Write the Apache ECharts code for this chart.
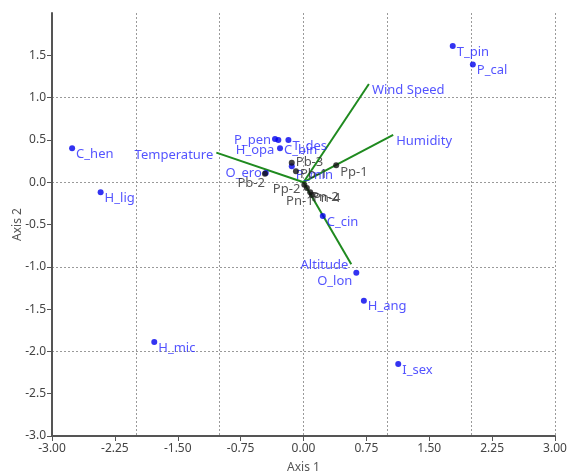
<!DOCTYPE html>
<html>
<head>
<meta charset="utf-8">
<script src="https://cdn.jsdelivr.net/npm/echarts@6/dist/echarts.min.js"></script>
<style>
  html, body { margin: 0; padding: 0; background: #fff; }
  #graph { width: 568px; height: 472px; }
</style>
</head>
<body>
<div id="graph"></div>
<script>
// species scores (blue)
var speciesNames = ['T_pin', 'P_cal', 'C_hen', 'H_lig', 'H_mic', 'I_sex', 'H_ang', 'O_lon', 'C_cin',
  'O_ero', 'P_pen', 'H_opa', 'T_des', 'C_bin', 'P_min'];
var speciesX = [1.78, 2.02, -2.76, -2.42, -1.78, 1.13, 0.72, 0.63, 0.23, -0.45, -0.34, -0.30, -0.18, -0.28, -0.14];
var speciesY = [1.61, 1.39, 0.40, -0.12, -1.89, -2.15, -1.40, -1.07, -0.40, 0.11, 0.51, 0.50, 0.50, 0.40, 0.19];

// sample scores (black)
var sampleNames = ['Pb-1', 'Pb-2', 'Pb-3', 'Pp-1', 'Pp-2', 'Pn-1', 'Pn-2', 'Pn-4'];
var sampleX = [-0.09, -0.46, -0.14, 0.39, 0.01, 0.04, 0.08, 0.10];
var sampleY = [0.13, 0.10, 0.23, 0.20, -0.03, -0.07, -0.12, -0.15];

// environmental vectors (green)
var envNames = ['Temperature', 'Wind Speed', 'Humidity', 'Altitude'];
var envX = [-1.04, 0.78, 1.07, 0.57];
var envY = [0.35, 1.16, 0.56, -0.97];

// label placement (style only)
var labelPlace = {
  'O_lon': ['left', [0, 9]],
  'O_ero': ['left', [0, 0]],
  'P_pen': ['left', [0, 1]],
  'H_opa': ['left', [0, 10]],
  'C_bin': ['right', [0, 2]],
  'P_min': ['right', [0, 9]],
  'Pb-1': ['right', [0, 3]],
  'Pb-2': ['left', [4, 10]],
  'Pb-3': ['right', [0, 0]],
  'Pp-1': ['right', [0, 7]],
  'Pp-2': ['left', [0, 5]],
  'Pn-1': ['bottom', [-7, 3]],
  'Pn-2': ['right', [-3, 5]],
  'Pn-4': ['right', [-3, 3]],
  'Temperature': ['left', [0, 3]],
  'Wind Speed': ['right', [0, 6]],
  'Humidity': ['right', [0, 6]],
  'Altitude': ['left', [0, 1]]
};

function place(name) {
  var p = labelPlace[name] || ['right', [0, 6]];
  return { position: p[0], offset: p[1] };
}

var fontFam = "'Segoe UI', 'Noto Sans', sans-serif";

var chartDom = document.getElementById('graph');
var myChart = echarts.init(chartDom);

var speciesData = speciesNames.map(function (n, i) {
  var pl = place(n);
  return { name: n, value: [speciesX[i], speciesY[i]], label: { position: pl.position, offset: pl.offset } };
});
var sampleData = sampleNames.map(function (n, i) {
  var pl = place(n);
  return { name: n, value: [sampleX[i], sampleY[i]], label: { position: pl.position, offset: pl.offset } };
});
var envLabelData = envNames.map(function (n, i) {
  var pl = place(n);
  return { name: n, value: [envX[i], envY[i]], label: { position: pl.position, offset: pl.offset } };
});

var series = [];
envNames.forEach(function (n, i) {
  series.push({
    type: 'line',
    name: n,
    data: [[0, 0], [envX[i], envY[i]]],
    showSymbol: false,
    symbol: 'none',
    silent: true,
    lineStyle: { color: '#1f8a1f', width: 2 },
    z: 2
  });
});
series.push({
  type: 'scatter',
  name: 'envLabels',
  data: envLabelData,
  symbolSize: 2,
  itemStyle: { color: 'rgba(0,0,0,0)' },
  label: { show: true, formatter: '{b}', color: '#2828ff', fontSize: 13, fontFamily: fontFam, distance: 2 },
  z: 3
});
series.push({
  type: 'scatter',
  name: 'species',
  data: speciesData,
  symbolSize: 6,
  itemStyle: { color: '#0000ee' },
  label: { show: true, formatter: '{b}', color: '#2828ff', fontSize: 13, fontFamily: fontFam, distance: 1 },
  z: 4
});
series.push({
  type: 'scatter',
  name: 'samples',
  data: sampleData,
  symbolSize: 6,
  itemStyle: { color: '#111' },
  label: { show: true, formatter: '{b}', color: '#2a2a2a', fontSize: 13, fontFamily: fontFam, distance: 1 },
  z: 5
});

var option = {
  animation: false,
  grid: { left: 52, right: 13, top: 13, bottom: 36, outerBoundsMode: 'none' },
  xAxis: [
    {
      type: 'value', min: -3, max: 3, interval: 0.75,
      name: 'Axis 1', nameLocation: 'middle', nameGap: 26, nameMoveOverlap: false,
      nameTextStyle: { color: '#555', fontSize: 12, fontFamily: fontFam },
      axisLine: { show: true, onZero: false, lineStyle: { color: '#555', width: 2 } },
      axisTick: { show: true, length: 5, lineStyle: { color: '#555' } },
      axisLabel: { color: '#444', fontSize: 12, fontFamily: fontFam, margin: 7,
        formatter: function (v) { return v.toFixed(2); } },
      splitLine: { show: false }
    },
    {
      type: 'value', min: -3, max: 3, interval: 1, position: 'top',
      axisLine: { show: false }, axisTick: { show: false }, axisLabel: { show: false },
      splitLine: { show: true, lineStyle: { color: '#9a9a9a', type: [2, 2], width: 1 } }
    }
  ],
  yAxis: [
    {
      type: 'value', min: -3, max: 2, interval: 0.5,
      name: 'Axis 2', nameLocation: 'middle', nameGap: 28, nameMoveOverlap: false,
      nameTextStyle: { color: '#555', fontSize: 12, fontFamily: fontFam },
      axisLine: { show: true, onZero: false, lineStyle: { color: '#555', width: 2 } },
      axisTick: { show: true, length: 5, lineStyle: { color: '#555' } },
      axisLabel: { color: '#444', fontSize: 12, fontFamily: fontFam, margin: 6, showMaxLabel: false,
        formatter: function (v) { return v >= 2 ? '' : v.toFixed(1); } },
      splitLine: { show: false }
    },
    {
      type: 'value', min: -3, max: 2, interval: 1, position: 'right',
      axisLine: { show: false }, axisTick: { show: false }, axisLabel: { show: false },
      splitLine: { show: true, showMaxLine: false, lineStyle: { color: '#9a9a9a', type: [2, 2], width: 1 } }
    }
  ],
  series: series
};

option && myChart.setOption(option);
</script>
</body>
</html>
